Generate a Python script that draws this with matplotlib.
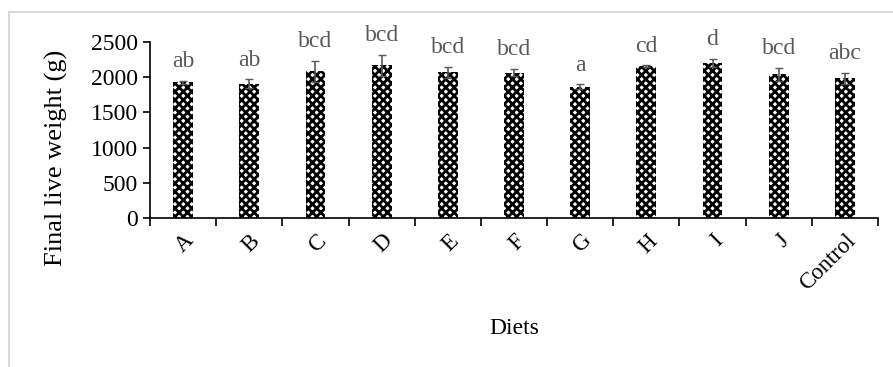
import numpy as np
import matplotlib.pyplot as plt
from matplotlib.lines import Line2D

diets = ['A', 'B', 'C', 'D', 'E', 'F', 'G', 'H', 'I', 'J', 'Control']
weight = [1930, 1905, 2085, 2170, 2070, 2065, 1865, 2160, 2205, 2040, 1985]
err = [20, 65, 150, 150, 80, 55, 35, 12, 60, 95, 80]
letters = ['ab', 'ab', 'bcd', 'bcd', 'bcd', 'bcd', 'a', 'cd', 'd', 'bcd', 'abc']

plt.rcParams['font.family'] = ['Liberation Serif', 'DejaVu Serif']
plt.rcParams['hatch.linewidth'] = 2.0

fig = plt.figure(figsize=(8.93, 3.67), dpi=100)
ax = fig.add_axes([150 / 893, 1 - 218 / 367, 728 / 893, 176 / 367])

x = np.arange(len(diets))
ax.bar(x, weight, width=0.3, color='white', edgecolor='black', hatch='xxxx', linewidth=0)
ax.errorbar(x, weight, yerr=err, fmt='none', ecolor='#595959', elinewidth=1.2, capsize=3)

for xi, w, e, lab in zip(x, weight, err, letters):
    ax.annotate(lab, (xi, w + e), xytext=(0, 6), textcoords='offset points',
                ha='center', va='bottom', fontsize=17, color='#595959')

ax.set_xlim(-0.5, len(diets) - 0.5)
ax.set_ylim(0, 2500)
ax.set_yticks([0, 500, 1000, 1500, 2000, 2500])
ax.set_xticks(np.arange(len(diets) + 1) - 0.5, minor=False)
ax.set_xticklabels([])
ax.set_xticks(x, minor=True)
ax.set_xticklabels(diets, minor=True, rotation=45, ha='right', rotation_mode='anchor', fontsize=16.5)
ax.tick_params(axis='x', which='minor', length=0, pad=9)
ax.tick_params(axis='x', which='major', length=6, width=1.2, direction='out')
ax.tick_params(axis='y', length=5, width=1.2, labelsize=17)
for s in ['top', 'right']:
    ax.spines[s].set_visible(False)
ax.spines['left'].set_linewidth(1.2)
ax.spines['bottom'].set_linewidth(1.2)

fig.text(56 / 893, 1 - 158 / 367, 'Final live weight (g)', rotation=90,
         ha='center', va='center', fontsize=19)
fig.text(514 / 893, 1 - 328 / 367, 'Diets', ha='center', va='center', fontsize=17)

fig.add_artist(Line2D([8.5 / 893, 8.5 / 893], [0, 1 - 12 / 367], color='#d9d9d9', lw=1.5))
fig.add_artist(Line2D([8.5 / 893, 1], [1 - 12 / 367, 1 - 12 / 367], color='#d9d9d9', lw=1.5))

fig.savefig('out.png', dpi=100)
